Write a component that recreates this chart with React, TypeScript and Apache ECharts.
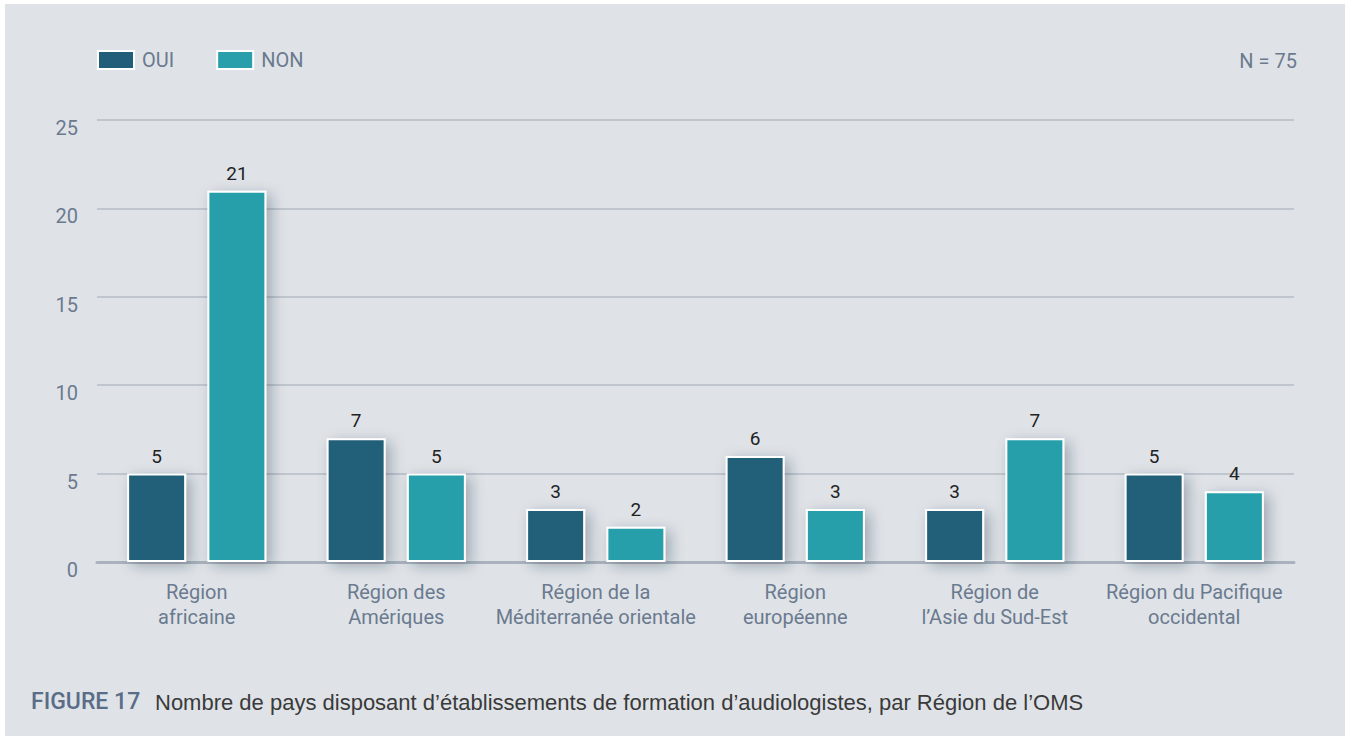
import React, { useEffect, useRef } from "react";
import * as echarts from "echarts";

const categories = [
  "Région\nafricaine",
  "Région des\nAmériques",
  "Région de la\nMéditerranée orientale",
  "Région\neuropéenne",
  "Région de\nl’Asie du Sud-Est",
  "Région du Pacifique\noccidental",
];
const ouiValues = [5, 7, 3, 6, 3, 5];
const nonValues = [21, 5, 2, 3, 7, 4];
const yTicks = [0, 5, 10, 15, 20, 25];

const FONT = "Roboto, 'Liberation Sans', sans-serif";
const BODY_FONT = "'Liberation Sans', Arial, sans-serif";
const GRAY = "#6b7a8f";

export default function App() {
  const ref = useRef<HTMLDivElement>(null);
  useEffect(() => {
    document.body.style.margin = "0";
    const chart = echarts.init(ref.current!, null, { renderer: "svg" });
    const barStyle = (color: string) => ({
      color,
      borderColor: "#ffffff",
      borderWidth: 2,
      shadowBlur: 14,
      shadowColor: "rgba(30,40,60,0.32)",
      shadowOffsetX: 5,
      shadowOffsetY: 4,
    });
    const label = {
      show: true,
      position: "top" as const,
      distance: 8,
      color: "#222222",
      fontSize: 19,
      fontFamily: FONT,
    };
    const legendItemStyle = {
      borderColor: "#fff",
      borderWidth: 2,
      shadowBlur: 0,
      shadowOffsetX: 0,
      shadowOffsetY: 0,
    };
    chart.setOption({
      animation: false,
      backgroundColor: "#ffffff",
      textStyle: { fontFamily: FONT },
      graphic: [
        {
          type: "rect",
          z: -10,
          silent: true,
          shape: { x: 5, y: 4, width: 1340, height: 732 },
          style: { fill: "#dfe3e7" },
        },
        {
          type: "text",
          x: 1297,
          y: 61,
          style: {
            text: "N = 75",
            fill: GRAY,
            font: `20px ${FONT}`,
            align: "right",
            verticalAlign: "middle",
          },
        },
        {
          type: "text",
          x: 31,
          y: 701,
          style: {
            text: "FIGURE 17",
            fill: "#5a6d87",
            font: `500 23px ${FONT}`,
            verticalAlign: "middle",
          },
        },
        {
          type: "text",
          x: 155,
          y: 702,
          style: {
            text: "Nombre de pays disposant d’établissements de formation d’audiologistes, par Région de l’OMS",
            fill: "#3a3a3a",
            font: `22px ${BODY_FONT}`,
            verticalAlign: "middle",
          },
        },
      ],
      legend: {
        left: 92,
        top: 45,
        icon: "rect",
        itemWidth: 36,
        itemHeight: 18,
        itemGap: 42,
        textStyle: { color: GRAY, fontSize: 20, fontFamily: FONT, padding: [0, 0, 0, 3] },
        data: [
          { name: "OUI", itemStyle: legendItemStyle },
          { name: "NON", itemStyle: legendItemStyle },
        ],
      },
      grid: { left: 97, right: 57, top: 120, bottom: 174, containLabel: false },
      xAxis: {
        type: "category",
        data: categories,
        axisLine: { show: true, lineStyle: { color: "#aab3bd", width: 3 } },
        axisTick: { show: false },
        axisLabel: {
          color: GRAY,
          fontSize: 20,
          lineHeight: 25,
          margin: 17,
          fontFamily: FONT,
          interval: 0,
        },
      },
      yAxis: {
        type: "value",
        min: yTicks[0],
        max: yTicks[yTicks.length - 1],
        interval: 5,
        splitLine: { lineStyle: { color: "#b5bdc6", width: 1.5 } },
        axisLine: { show: false },
        axisTick: { show: false },
        axisLabel: {
          color: GRAY,
          fontSize: 20,
          margin: 19,
          fontFamily: FONT,
          verticalAlign: "top",
          lineHeight: 16,
        },
      },
      series: [
        {
          name: "OUI",
          type: "bar",
          data: ouiValues,
          barWidth: 59,
          barGap: "36%",
          itemStyle: barStyle("#215e79"),
          label,
        },
        {
          name: "NON",
          type: "bar",
          data: nonValues,
          barWidth: 59,
          barGap: "36%",
          itemStyle: barStyle("#289faa"),
          label,
        },
      ],
    });
    return () => chart.dispose();
  }, []);
  return (
    <div
      ref={ref}
      style={{ position: "absolute", left: 0, top: 0, width: 1351, height: 736 }}
    />
  );
}
